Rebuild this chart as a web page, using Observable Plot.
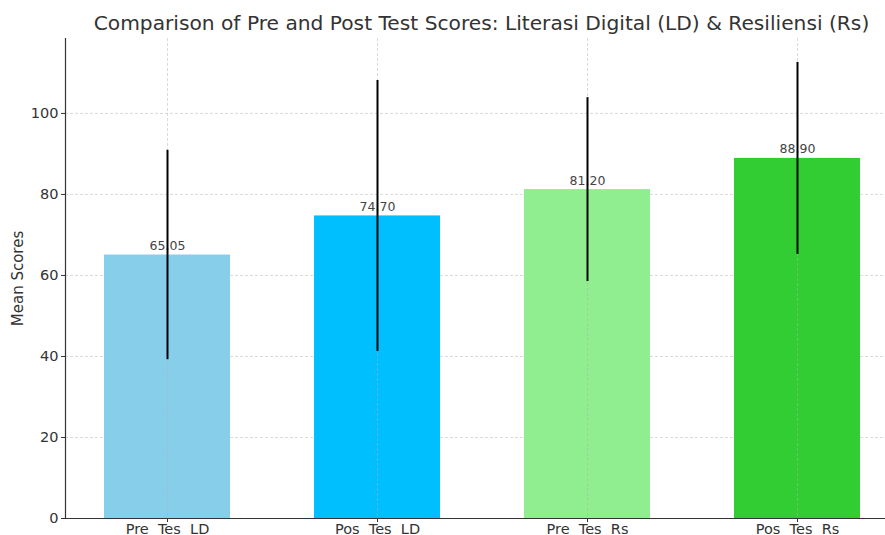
<!DOCTYPE html>
<html>
<head>
<meta charset="utf-8">
<script src="https://cdn.jsdelivr.net/npm/d3@7"></script>
<script src="https://cdn.jsdelivr.net/npm/@observablehq/plot@0.6"></script>
<style>
  body { margin: 0; background: #fff; font-family: "DejaVu Sans", sans-serif; }
  #wrap { position: relative; width: 885px; height: 535px; overflow: hidden; }
  #title { position: absolute; left: 0; top: 11px; width: 963px; text-align: center; font-size: 20.2px; color: #333; white-space: nowrap; }
  #chart { position: absolute; left: 0; top: 38px; }
  #chart svg text { font-family: "DejaVu Sans", sans-serif; }
</style>
</head>
<body>
<div id="wrap">
  <div id="title">Comparison of Pre and Post Test Scores: Literasi Digital (LD) &amp; Resiliensi (Rs)</div>
  <div id="chart"></div>
</div>
<script>
const categories = ["Pre  Tes  LD", "Pos  Tes  LD", "Pre  Tes  Rs", "Pos  Tes  Rs"];
const means = [65.05, 74.70, 81.20, 88.90];
const sds = [25.85, 33.45, 22.7, 23.7];
const yTicks = [0, 20, 40, 60, 80, 100];
const barColors = ["#87CEEB", "#00BFFF", "#90EE90", "#32CD32"];

const data = categories.map((c, i) => ({cat: c, mean: means[i], lo: means[i] - sds[i], hi: means[i] + sds[i], label: means[i].toFixed(2)}));

const H = 497;
const chart = Plot.plot({
  width: 885,
  height: H,
  marginLeft: 65,
  marginRight: 0,
  marginTop: 0,
  marginBottom: 17,
  style: {background: "#fff", color: "#333", fontSize: "14px", overflow: "visible"},
  x: {type: "band", domain: categories, range: [65, 898], paddingInner: 0.4, paddingOuter: 0.18, label: null},
  y: {domain: [0, 118.5], label: null},
  color: {domain: categories, range: barColors},
  marks: [
    Plot.gridY(yTicks, {stroke: "#b0b0b0", strokeOpacity: 0.6, strokeDasharray: "3,2", strokeWidth: 0.8}),
    Plot.barY(data, {x: "cat", y: "mean", fill: "cat"}),
    Plot.gridX(categories, {stroke: "#b0b0b0", strokeOpacity: 0.6, strokeDasharray: "3,2", strokeWidth: 0.8}),
    Plot.text(data, {x: "cat", y: "mean", text: "label", dy: -5, lineAnchor: "bottom", fill: "#444", fontSize: 12.5}),
    Plot.ruleX(data, {x: "cat", y1: "lo", y2: "hi", stroke: "#000", strokeWidth: 2}),
    Plot.axisY(yTicks, {tickSize: 4, tickPadding: 3, fontSize: 14.5, fill: "#333", stroke: "#333", label: null}),
    Plot.axisX(categories, {tickSize: 4, tickPadding: 1, fontSize: 14.5, fill: "#333", stroke: "#333", label: null}),
    Plot.frame({anchor: "left", stroke: "#333", strokeWidth: 1.2}),
    Plot.frame({anchor: "bottom", stroke: "#333", strokeWidth: 1.2}),
    Plot.text(["Mean Scores"], {frameAnchor: "left", textAnchor: "middle", dx: -47, rotate: -90, fontSize: 15, fill: "#333"})
  ]
});
document.getElementById("chart").appendChild(chart);
</script>
</body>
</html>
